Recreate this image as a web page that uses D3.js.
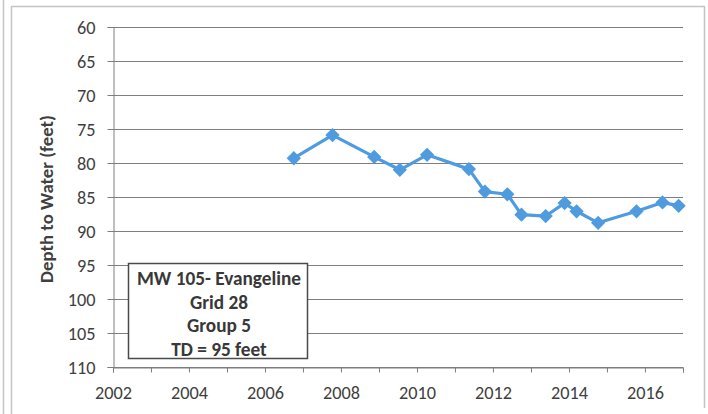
<!DOCTYPE html>
<html>
<head>
<meta charset="utf-8">
<script src="https://cdn.jsdelivr.net/npm/d3@7"></script>
<style>
  html, body { margin: 0; padding: 0; background: #fff; }
  svg { display: block; }
  text { font-family: Calibri, Carlito, Lato, "Open Sans", sans-serif; }
</style>
</head>
<body>
<svg id="chart" width="708" height="414"></svg>
<script>
// Measurement dates and depth to water (feet below ground)
const dates = [
  "2006-10-05", "2007-10-12", "2008-11-16", "2009-07-20", "2010-04-08",
  "2011-05-15", "2011-10-16", "2012-05-18", "2012-10-01", "2013-05-22",
  "2013-11-20", "2014-03-15", "2014-10-08", "2015-10-12", "2016-06-18",
  "2016-11-20"
];
const depths = [
  79.3, 75.9, 79.1, 81.0, 78.8,
  80.9, 84.2, 84.6, 87.6, 87.8,
  85.9, 87.1, 88.8, 87.1, 85.8,
  86.3
];
const yTicks = [60, 65, 70, 75, 80, 85, 90, 95, 100, 105, 110];
const xLabelYears = [2002, 2004, 2006, 2008, 2010, 2012, 2014, 2016];
const yAxisTitle = "Depth to Water (feet)";
const noteLines = ["MW 105- Evangeline", "Grid 28", "Group 5", "TD = 95 feet"];

const parse = d3.timeParse("%Y-%m-%d");
const data = dates.map((d, i) => ({ date: parse(d), depth: depths[i] }));

const svg = d3.select("#chart");
const plot = { left: 113, right: 683, top: 27, bottom: 367 };

// Scale a text selection's font so that a reference string spans the given width
function fitFont(sel, sampleNode, width, baseSize) {
  const w = sampleNode.getComputedTextLength();
  const size = baseSize * width / w;
  sel.attr("font-size", size);
  return size;
}

// Outer chart frame
const frame = svg.append("g").attr("stroke", "#c4c4c4").attr("fill", "none");
frame.append("line").attr("x1", 3.5).attr("x2", 3.5).attr("y1", 0).attr("y2", 414).attr("stroke-width", 1.5);
frame.append("line").attr("x1", 11.5).attr("x2", 11.5).attr("y1", 6).attr("y2", 414).attr("stroke-width", 1.5);
frame.append("line").attr("x1", 11.5).attr("x2", 704.5).attr("y1", 6.5).attr("y2", 6.5).attr("stroke-width", 1.5);
frame.append("line").attr("x1", 704.5).attr("x2", 704.5).attr("y1", 6).attr("y2", 408).attr("stroke-width", 1.5);

const x = d3.scaleTime()
  .domain([new Date(2002, 0, 1), new Date(2017, 0, 1)])
  .range([plot.left, plot.right]);
const y = d3.scaleLinear().domain([60, 110]).range([plot.top, plot.bottom]);

const axisGray = "#7f7f7f";
const textGray = "#404040";

// Horizontal gridlines
svg.append("g")
  .selectAll("line")
  .data(yTicks)
  .join("line")
  .attr("x1", plot.left).attr("x2", plot.right)
  .attr("y1", d => y(d) + 0.5).attr("y2", d => y(d) + 0.5)
  .attr("stroke", axisGray).attr("stroke-width", 1);

// Y axis
const yAxis = svg.append("g")
  .attr("transform", `translate(${plot.left + 0.5},0)`)
  .call(d3.axisLeft(y).tickValues(yTicks).tickSize(6).tickPadding(12).tickFormat(d3.format("d")));
yAxis.select(".domain").attr("stroke", axisGray);
yAxis.selectAll(".tick line").attr("stroke", axisGray);
const yLabels = yAxis.selectAll(".tick text")
  .attr("fill", textGray).attr("font-size", 16).attr("dy", "0.36em");

// X axis: yearly ticks, labels every second year
const yearTicks = d3.range(2002, 2018).map(yr => new Date(yr, 0, 1));
const xAxis = svg.append("g")
  .attr("transform", `translate(0,${plot.bottom + 0.5})`)
  .call(d3.axisBottom(x).tickValues(yearTicks).tickSize(5).tickPadding(0)
    .tickFormat(d => xLabelYears.includes(d.getFullYear()) ? d.getFullYear() : ""));
xAxis.select(".domain").attr("stroke", axisGray);
xAxis.selectAll(".tick line").attr("stroke", axisGray);
const xLabels = xAxis.selectAll(".tick text")
  .attr("fill", textGray).attr("font-size", 16)
  .attr("y", 25).attr("dy", "0.36em");

// Size tick labels: "2002" spans about 37px
const tickSize = fitFont(xLabels, xLabels.nodes()[0], 37, 16);
yLabels.attr("font-size", tickSize);

// Y axis title
const yTitle = svg.append("text")
  .attr("transform", `translate(46,${(plot.top + plot.bottom) / 2 + 2}) rotate(-90)`)
  .attr("text-anchor", "middle")
  .attr("dy", "0.36em")
  .attr("font-weight", "bold")
  .attr("font-size", 14)
  .attr("fill", textGray)
  .text(yAxisTitle);
fitFont(yTitle, yTitle.node(), 168, 14);

// Data line and diamond markers
const lineColor = "#4f9be0";
svg.append("path")
  .datum(data)
  .attr("fill", "none")
  .attr("stroke", lineColor)
  .attr("stroke-width", 3.2)
  .attr("stroke-linejoin", "round")
  .attr("d", d3.line().x(d => x(d.date)).y(d => y(d.depth)));

svg.append("g")
  .selectAll("path")
  .data(data)
  .join("path")
  .attr("transform", d => `translate(${x(d.date)},${y(d.depth)})`)
  .attr("d", d3.symbol(d3.symbolDiamond2, 130))
  .attr("fill", lineColor);

// Well annotation box
const box = svg.append("g");
box.append("rect")
  .attr("x", 128.5).attr("y", 263.5).attr("width", 179).attr("height", 95)
  .attr("fill", "#fff").attr("stroke", "#4a4a4a").attr("stroke-width", 1.5);
const noteText = box.selectAll("text")
  .data(noteLines)
  .join("text")
  .attr("x", 219)
  .attr("y", (d, i) => 278 + i * 23.6)
  .attr("dy", "0.36em")
  .attr("text-anchor", "middle")
  .attr("font-weight", "bold")
  .attr("font-size", 16)
  .attr("fill", "#383838")
  .text(d => d);
fitFont(noteText, noteText.nodes()[0], 164, 16);
</script>
</body>
</html>
